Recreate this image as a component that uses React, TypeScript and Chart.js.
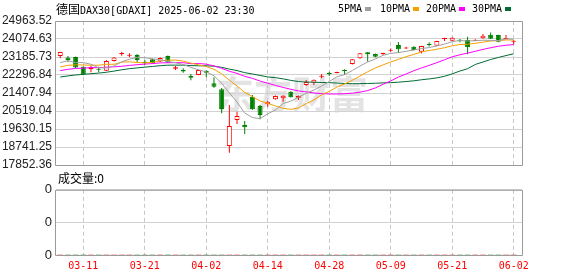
import React, { useEffect, useRef } from 'react';
import { Chart, registerables } from 'chart.js';

Chart.register(...registerables);

// ---- data ----
const dates = [
  '03-06', '03-07', '03-10', '03-11', '03-12', '03-13', '03-14', '03-17', '03-18', '03-19',
  '03-20', '03-21', '03-24', '03-25', '03-26', '03-27', '03-28', '03-31', '04-01', '04-02',
  '04-03', '04-04', '04-07', '04-08', '04-09', '04-10', '04-11', '04-14', '04-15', '04-16',
  '04-17', '04-22', '04-23', '04-24', '04-25', '04-28', '04-29', '04-30', '05-02', '05-05',
  '05-06', '05-07', '05-08', '05-09', '05-12', '05-13', '05-14', '05-15', '05-16', '05-19',
  '05-20', '05-21', '05-22', '05-23', '05-26', '05-27', '05-28', '05-29', '05-30', '06-02',
];

const opens = [
  23235, 23160, 23186, 22700, 22578, 22608, 22509, 22990, 23320, 23250,
  23285, 22954, 23072, 22963, 23235, 22608, 22544, 22247, 22300, 22509,
  21887, 21590, 18790, 20075, 19828, 21225, 20766, 20850, 21097, 21146,
  21472, 21176, 21803, 21917, 22213, 22396, 22396, 22544, 22840, 23121,
  23418, 23334, 23319, 23500, 23778, 23600, 23695, 23447, 23813, 23744,
  24074, 23990, 24025, 24025, 23990, 24109, 24287, 24272, 24070, 23940,
];
const highs = [
  23450, 23235, 23210, 22720, 22756, 22707, 23040, 23180, 23447, 23368,
  23334, 23038, 23100, 23160, 23260, 22741, 22628, 22346, 22560, 22530,
  22183, 21655, 20815, 20484, 20025, 21309, 20815, 21013, 21290, 21300,
  21500, 21290, 22050, 22080, 22346, 22460, 22460, 22578, 23090, 23380,
  23430, 23360, 23400, 23600, 23926, 23690, 23720, 23740, 23910, 23990,
  24140, 24160, 24074, 24190, 24060, 24320, 24390, 24290, 24272, 24025,
];
const lows = [
  23121, 22940, 22640, 22280, 22430, 22430, 22490, 22960, 23250, 23171,
  22924, 22791, 22860, 22940, 22890, 22544, 22410, 22040, 22280, 22183,
  21670, 20406, 18460, 19877, 19383, 20568, 20109, 20731, 21080, 20979,
  21180, 21062, 21770, 21803, 22140, 22247, 22380, 22297, 22820, 23100,
  22954, 23170, 23300, 23440, 23398, 23580, 23510, 23360, 23700, 23730,
  23976, 23970, 23910, 23320, 23970, 24090, 24070, 23920, 24060, 23812,
];
const closes = [
  23432, 23030, 22670, 22330, 22677, 22559, 22990, 23155, 23383, 23285,
  23038, 22880, 22890, 23136, 22914, 22677, 22470, 22163, 22540, 22410,
  21719, 20618, 19778, 20272, 19714, 20603, 20321, 20979, 21260, 21275,
  21196, 21275, 21951, 22065, 22262, 22331, 22430, 22495, 23072, 23368,
  23319, 23201, 23383, 23540, 23566, 23650, 23531, 23729, 23778, 23976,
  24107, 24140, 23990, 23665, 24040, 24238, 24090, 23940, 24090, 23970,
];

const ma5 = [
  22908, 23003, 22908, 22909, 22828, 22653, 22645, 22742, 22953, 23074,
  23170, 23148, 23095, 23046, 22972, 22899, 22817, 22672, 22553, 22452,
  22260, 21890, 21413, 20959, 20420, 20197, 20138, 20378, 20575, 20888,
  21006, 21197, 21391, 21552, 21750, 21977, 22208, 22317, 22518, 22739,
  22937, 23091, 23269, 23362, 23402, 23468, 23534, 23603, 23651, 23733,
  23824, 23946, 23998, 23976, 23988, 24015, 24005, 23995, 24080, 24066,
];
const ma10 = [
  22701, 22775, 22799, 22791, 22780, 22780, 22824, 22825, 22931, 22951,
  22912, 22897, 22919, 22999, 23023, 23035, 22983, 22884, 22799, 22712,
  22580, 22354, 22043, 21756, 21436, 21229, 21014, 20895, 20767, 20654,
  20602, 20667, 20885, 21064, 21319, 21492, 21702, 21854, 22035, 22245,
  22457, 22649, 22793, 22940, 23071, 23202, 23313, 23436, 23507, 23567,
  23646, 23740, 23801, 23813, 23861, 23919, 23975, 23996, 24028, 24027,
];
const ma20 = [
  22515, 22577, 22620, 22635, 22662, 22659, 22683, 22701, 22727, 22770,
  22806, 22836, 22859, 22895, 22901, 22908, 22904, 22854, 22865, 22831,
  22746, 22625, 22481, 22378, 22230, 22132, 21998, 21890, 21783, 21683,
  21591, 21511, 21464, 21410, 21377, 21360, 21358, 21375, 21401, 21449,
  21529, 21658, 21839, 22002, 22195, 22347, 22507, 22645, 22771, 22906,
  23051, 23195, 23297, 23377, 23466, 23561, 23644, 23716, 23767, 23797,
];
const ma30 = [
  22197, 22252, 22298, 22328, 22363, 22390, 22432, 22490, 22553, 22609,
  22647, 22684, 22720, 22756, 22782, 22784, 22783, 22762, 22751, 22751,
  22731, 22675, 22587, 22516, 22413, 22348, 22274, 22201, 22166, 22106,
  22031, 21973, 21949, 21940, 21926, 21918, 21900, 21878, 21867, 21870,
  21879, 21890, 21907, 21920, 21942, 21974, 22010, 22062, 22103, 22155,
  22235, 22352, 22493, 22606, 22817, 22938, 23063, 23162, 23256, 23346,
];

const volumes = [
  0, 0, 0, 0, 0, 0, 0, 0, 0, 0,
  0, 0, 0, 0, 0, 0, 0, 0, 0, 0,
  0, 0, 0, 0, 0, 0, 0, 0, 0, 0,
  0, 0, 0, 0, 0, 0, 0, 0, 0, 0,
  0, 0, 0, 0, 0, 0, 0, 0, 0, 0,
  0, 0, 0, 0, 0, 0, 0, 0, 0, 0,
];

const priceTicks = [
  17852.36, 18741.25, 19630.15, 20519.04, 21407.94, 22296.84, 23185.73, 24074.63, 24963.52,
];
const xTickLabels = ['03-11', '03-21', '04-02', '04-14', '04-28', '05-09', '05-21', '06-02'];
const volumeTicks = [0, 1, 2, 3, 4];
const volumeTickLabels = ['0', '0', '0', '0', '0'];

const maSeries = [
  { name: '5PMA', values: ma5, color: '#a0a0a0' },
  { name: '10PMA', values: ma10, color: '#f5a000' },
  { name: '20PMA', values: ma20, color: '#ff00ff' },
  { name: '30PMA', values: ma30, color: '#006b33' },
];

// ---- styles ----
const UP = '#ff0000';
const DOWN = '#008000';
const BORDER = '#9a9a9a';
const HGRID = '#d2d2d2';
const VGRID = '#c8c8c8';
const MONO = "'DejaVu Sans Mono', 'Liberation Mono', monospace";
const CJK = "'Noto Sans CJK SC', sans-serif";
const AXIS_FONT = "'Liberation Sans', Arial, sans-serif";

const X_MIN = -0.552;
const X_MAX = 60.08;

const xTickIndex = xTickLabels.map((l) => dates.indexOf(l));

const frame = {
  id: 'frame',
  afterDraw(chart: any) {
    const { ctx, chartArea: a } = chart;
    ctx.save();
    ctx.strokeStyle = BORDER;
    ctx.lineWidth = 1;
    ctx.beginPath();
    ctx.rect(a.left - 0.5, a.top + 0.5, a.right - a.left + 1, a.bottom - a.top);
    ctx.stroke();
    ctx.restore();
  },
};

const watermark = {
  id: 'watermark',
  beforeDraw(chart: any) {
    const { ctx, chartArea: a } = chart;
    ctx.save();
    ctx.font = `bold 38px ${CJK}`;
    ctx.fillStyle = '#e3e3e3';
    ctx.textBaseline = 'middle';
    ctx.fillText('东方财富', a.left + 160, a.top + 73);
    ctx.restore();
  },
};

export default function App() {
  const mainRef = useRef<HTMLCanvasElement>(null);
  const volRef = useRef<HTMLCanvasElement>(null);

  useEffect(() => {
    const up = closes.map((c, i) => c >= opens[i]);

    const xScale = (showLabels: boolean) => ({
      type: 'linear' as const,
      min: X_MIN,
      max: X_MAX,
      offset: false,
      afterBuildTicks: (s: any) => {
        s.ticks = xTickIndex.map((v) => ({ value: v }));
      },
      afterFit: (s: any) => {
        s.height = showLabels ? 21 : 0;
      },
      ticks: {
        display: showLabels,
        autoSkip: false,
        maxRotation: 0,
        minRotation: 0,
        padding: 5,
        color: '#ff0000',
        font: { family: MONO, size: 10 },
        callback: (v: any) => dates[v] ?? '',
      },
      grid: { color: VGRID, lineWidth: 1, drawTicks: false, offset: false },
      border: { display: false, dash: [4, 3] },
    });

    const main = new Chart(mainRef.current!, {
      type: 'bar',
      data: {
        datasets: [
          ...maSeries.map((m, k) => ({
            type: 'line' as const,
            label: m.name,
            data: m.values.map((v, i) => ({ x: i, y: v })),
            borderColor: m.color,
            borderWidth: 1,
            pointRadius: 0,
            tension: 0,
            order: 1 + k,
          })),
          {
            label: 'wick',
            data: dates.map((_, i) => ({ x: i, y: [lows[i], highs[i]] })),
            backgroundColor: up.map((u) => (u ? UP : DOWN)),
            borderWidth: 0,
            barThickness: 1,
            grouped: false,
            inflateAmount: 0,
            order: 20,
          } as any,
          {
            label: 'body',
            data: dates.map((_, i) => ({ x: i, y: [opens[i], closes[i]] })),
            backgroundColor: up.map((u) => (u ? '#ffffff' : DOWN)),
            borderColor: up.map((u) => (u ? UP : DOWN)),
            borderWidth: 1,
            borderSkipped: false,
            barThickness: 5,
            minBarLength: 1,
            grouped: false,
            inflateAmount: 0,
            order: 10,
          } as any,
        ],
      },
      options: {
        responsive: false,
        animation: false,
        devicePixelRatio: 1,
        events: [],
        layout: { padding: { top: 21, right: 56, bottom: 13, left: 0 } },
        plugins: { legend: { display: false }, tooltip: { enabled: false }, title: { display: false } },
        scales: {
          x: xScale(false) as any,
          y: {
            type: 'linear',
            min: priceTicks[0],
            max: priceTicks[priceTicks.length - 1],
            afterBuildTicks: (s: any) => {
              s.ticks = priceTicks.map((v) => ({ value: v }));
            },
            afterFit: (s: any) => {
              s.width = 56;
            },
            ticks: {
              padding: 4,
              color: '#222222',
              font: { family: AXIS_FONT, size: 12 },
              callback: (v: any) => {
                const k = priceTicks.indexOf(v);
                return k >= 0 ? priceTicks[k].toFixed(2) : '';
              },
            },
            grid: { color: HGRID, lineWidth: 1, drawTicks: false },
            border: { display: false },
          },
        },
      },
      plugins: [watermark, frame],
    });

    const vol = new Chart(volRef.current!, {
      type: 'bar',
      data: {
        datasets: [
          {
            label: '成交量',
            data: volumes.map((v, i) => ({ x: i, y: v })),
            backgroundColor: up.map((u) => (u ? UP : DOWN)),
            borderWidth: 0,
            barThickness: 5,
            grouped: false,
          } as any,
        ],
      },
      options: {
        responsive: false,
        animation: false,
        devicePixelRatio: 1,
        events: [],
        layout: { padding: { top: 9, right: 56, bottom: 0, left: 0 } },
        plugins: { legend: { display: false }, tooltip: { enabled: false }, title: { display: false } },
        scales: {
          x: xScale(true) as any,
          y: {
            type: 'linear',
            min: volumeTicks[0],
            max: volumeTicks[volumeTicks.length - 1],
            afterBuildTicks: (s: any) => {
              s.ticks = volumeTicks.map((v) => ({ value: v }));
            },
            afterFit: (s: any) => {
              s.width = 56;
            },
            ticks: {
              padding: 4,
              color: '#222222',
              font: { family: AXIS_FONT, size: 13 },
              callback: (v: any) => volumeTickLabels[volumeTicks.indexOf(v)] ?? '',
            },
            grid: { color: HGRID, lineWidth: 1, drawTicks: false },
            border: { display: false },
          },
        },
      },
      plugins: [frame],
    });

    return () => {
      main.destroy();
      vol.destroy();
    };
  }, []);

  const legendPos = [
    { text: 338, box: 365 },
    { text: 380, box: 413 },
    { text: 426, box: 459 },
    { text: 472, box: 505 },
  ];

  return (
    <div
      style={{
        position: 'absolute',
        left: 0,
        top: 0,
        width: 578,
        height: 276,
        background: '#ffffff',
        overflow: 'hidden',
      }}
    >
      <canvas
        ref={mainRef}
        width={578}
        height={178}
        style={{ position: 'absolute', left: 0, top: 0, width: 578, height: 178 }}
      />
      <canvas
        ref={volRef}
        width={578}
        height={98}
        style={{ position: 'absolute', left: 0, top: 178, width: 578, height: 98 }}
      />
      <div
        style={{
          position: 'absolute',
          left: 56,
          top: 2,
          height: 14,
          lineHeight: '14px',
          fontSize: 10,
          fontFamily: MONO,
          color: '#000',
          whiteSpace: 'nowrap',
        }}
      >
        <span style={{ fontFamily: CJK, fontSize: 12 }}>德国</span>DAX30[GDAXI] 2025-06-02 23:30
      </div>
      {maSeries.map((m, k) => (
        <React.Fragment key={m.name}>
          <div
            style={{
              position: 'absolute',
              left: legendPos[k].text,
              top: 2,
              height: 14,
              lineHeight: '14px',
              fontSize: 10,
              fontFamily: MONO,
              color: '#000',
              whiteSpace: 'nowrap',
            }}
          >
            {m.name}
          </div>
          <div
            style={{
              position: 'absolute',
              left: legendPos[k].box,
              top: 7,
              width: 6,
              height: 4,
              background: m.color,
            }}
          />
        </React.Fragment>
      ))}
      <div
        style={{
          position: 'absolute',
          left: 58,
          top: 170,
          height: 15,
          lineHeight: '15px',
          fontSize: 12,
          fontFamily: CJK,
          color: '#000',
          whiteSpace: 'nowrap',
        }}
      >
        成交量:0
      </div>
    </div>
  );
}
